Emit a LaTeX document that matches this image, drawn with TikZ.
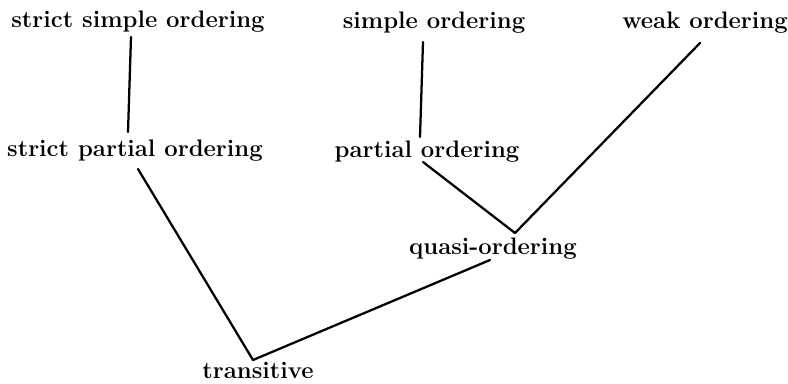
\documentclass[tikz,border=0pt]{standalone}
\usetikzlibrary{calc}
\begin{document}
\begin{tikzpicture}[x=0.75pt,y=-0.75pt,
  lbl/.style={anchor=base,inner sep=0pt,font=\fontsize{17.9}{21}\selectfont\bfseries},
  conn/.style={line width=1.7pt,line cap=round}]
\useasboundingbox (0,0) rectangle (788,383);
\node[lbl] (ss) at (138,27) {strict simple ordering};
\node[lbl] (so) at (434,28) {simple ordering};
\node[lbl] (wo) at (705,28) {weak ordering};
\node[lbl] (sp) at (135,156) {strict partial ordering};
\node[lbl] (po) at (427,157) {partial ordering};
\node[lbl] (qu) at (493,254) {quasi-ordering};
\node[lbl] (tr) at (258,378) {transitive};
\draw[conn] ($(ss.base)+(-7,10)$) -- ($(sp.base)+(-7,-24)$);
\draw[conn] ($(so.base)+(-11,14)$) -- ($(po.base)+(-7,-20)$);
\draw[conn] ($(wo.base)+(-5,15)$) -- ($(qu.base)+(22,-21)$);
\draw[conn] ($(po.base)+(-4,5)$) -- ($(qu.base)+(22,-21)$);
\draw[conn] ($(sp.base)+(3,13)$) -- ($(tr.base)+(-5,-18)$);
\draw[conn] ($(tr.base)+(-5,-18)$) -- ($(qu.base)+(-3,6)$);
\end{tikzpicture}
\end{document}
